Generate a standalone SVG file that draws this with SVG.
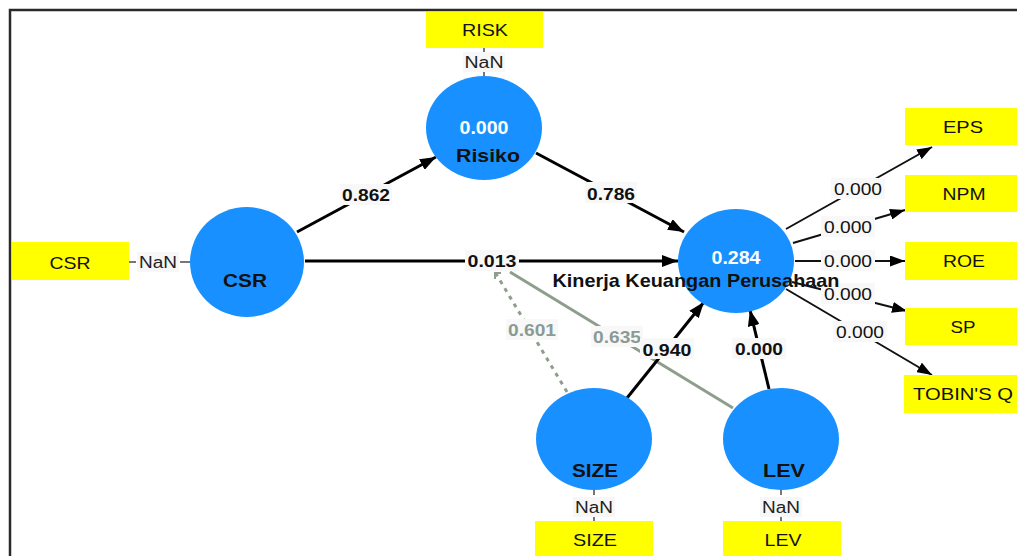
<svg xmlns="http://www.w3.org/2000/svg" width="1017" height="556" viewBox="0 0 1017 556">
<defs>
<marker id="ah" viewBox="0 0 16 12" refX="16" refY="6" markerWidth="16" markerHeight="12" markerUnits="userSpaceOnUse" orient="auto"><path d="M0,0 L16,6 L0,12 z" fill="#000"/></marker>
<marker id="ahs" viewBox="0 0 15 11" refX="15" refY="5.5" markerWidth="15" markerHeight="11" markerUnits="userSpaceOnUse" orient="auto"><path d="M0,0 L15,5.5 L0,11 z" fill="#000"/></marker>
</defs>
<style>
.lv{fill:#1990ff}
.box{fill:#ffff00}
.bt{font-family:"Liberation Sans",Arial,sans-serif;font-size:17px;fill:#111;text-anchor:middle}
.nan{font-family:"Liberation Sans",Arial,sans-serif;font-size:16px;fill:#222;text-anchor:middle}
.nbg{fill:#f7f7f7}
.cl{font-family:"Liberation Sans",Arial,sans-serif;font-size:19px;font-weight:bold;fill:#111;text-anchor:middle}
.r2{font-family:"Liberation Sans",Arial,sans-serif;font-size:18px;font-weight:bold;fill:#fff;text-anchor:middle}
.main{stroke:#000;stroke-width:3;fill:none}
.outer{stroke:#111;stroke-width:2;fill:none}
.mod{stroke:#8e9e8c;stroke-width:3;fill:none}
.nl{stroke:#777;stroke-width:2}
.pl{font-family:"Liberation Sans",Arial,sans-serif;font-size:17px;font-weight:bold;fill:#111;text-anchor:middle}
.ml{font-family:"Liberation Sans",Arial,sans-serif;font-size:17px;font-weight:bold;fill:#8a9b95;text-anchor:middle}
.ol{font-family:"Liberation Sans",Arial,sans-serif;font-size:17px;fill:#111;text-anchor:middle}
.lbg{fill:#f8f8f8}
</style>
<rect width="1017" height="556" fill="#fff"/>
<path d="M10,556 V10 H1017" fill="none" stroke="#2a2a2a" stroke-width="2.5"/>
<g id="connectors">
<path class="mod" d="M567,392 L495,272" stroke-dasharray="4 5"/>
<path d="M495,279 V273 H501" fill="none" stroke="#8e9e8c" stroke-width="2"/>
<path class="mod" d="M510,272 L733,408"/>
<path class="main" d="M297,232 L436,157" marker-end="url(#ah)"/>
<path class="main" d="M536,153 L684,232" marker-end="url(#ah)"/>
<path class="main" d="M305,261 L678,261" marker-end="url(#ah)"/>
<path class="main" d="M627,398 L704,302" marker-end="url(#ah)"/>
<path class="main" d="M769,389 L750,310" marker-end="url(#ah)"/>
<path class="outer" d="M786,229 L932,147" marker-end="url(#ahs)"/>
<path class="outer" d="M793,243 L905,210" marker-end="url(#ahs)"/>
<path class="outer" d="M795,261 L905,261" marker-end="url(#ahs)"/>
<path class="outer" d="M792,282 L907,311" marker-end="url(#ahs)"/>
<path class="outer" d="M786,289 L932,375" marker-end="url(#ahs)"/>
<line class="nl" x1="129" y1="262" x2="136" y2="262"/>
<line class="nl" x1="180" y1="262" x2="190" y2="262"/>
<line class="nl" x1="484" y1="48" x2="484" y2="52"/>
<line class="nl" x1="484" y1="72" x2="484" y2="76"/>
<line class="nl" x1="594" y1="490" x2="594" y2="495"/>
<line class="nl" x1="594" y1="517" x2="594" y2="521"/>
<line class="nl" x1="781" y1="490" x2="781" y2="495"/>
<line class="nl" x1="781" y1="517" x2="781" y2="521"/>
<rect class="lbg" x="340" y="184" width="52" height="21"/><text class="pl" x="366" y="201" textLength="48" lengthAdjust="spacingAndGlyphs">0.862</text>
<rect class="lbg" x="585" y="182" width="52" height="21"/><text class="pl" x="611" y="200" textLength="48" lengthAdjust="spacingAndGlyphs">0.786</text>
<rect class="lbg" x="465" y="250" width="54" height="21"/><text class="pl" x="492" y="267" textLength="49" lengthAdjust="spacingAndGlyphs">0.013</text>
<rect class="lbg" x="506" y="319" width="52" height="21"/><text class="ml" x="532" y="336" textLength="48" lengthAdjust="spacingAndGlyphs">0.601</text>
<rect class="lbg" x="591" y="326" width="52" height="21"/><text class="ml" x="617" y="343" textLength="48" lengthAdjust="spacingAndGlyphs">0.635</text>
<rect class="lbg" x="640" y="338" width="54" height="21"/><text class="pl" x="667" y="356" textLength="49" lengthAdjust="spacingAndGlyphs">0.940</text>
<rect class="lbg" x="732" y="338" width="54" height="21"/><text class="pl" x="759" y="355" textLength="48" lengthAdjust="spacingAndGlyphs">0.000</text>
<rect class="lbg" x="831" y="178" width="54" height="21"/><text class="ol" x="858" y="195" textLength="48" lengthAdjust="spacingAndGlyphs">0.000</text>
<rect class="lbg" x="821" y="216" width="54" height="21"/><text class="ol" x="848" y="233" textLength="48" lengthAdjust="spacingAndGlyphs">0.000</text>
<rect class="lbg" x="821" y="250" width="54" height="21"/><text class="ol" x="848" y="267" textLength="48" lengthAdjust="spacingAndGlyphs">0.000</text>
<rect class="lbg" x="821" y="283" width="54" height="21"/><text class="ol" x="848" y="300" textLength="48" lengthAdjust="spacingAndGlyphs">0.000</text>
<rect class="lbg" x="833" y="321" width="54" height="21"/><text class="ol" x="860" y="338" textLength="48" lengthAdjust="spacingAndGlyphs">0.000</text>
</g>
<g id="node-risiko">
<ellipse class="lv" cx="484" cy="128" rx="58" ry="52"/>
<text class="r2" x="484" y="134" textLength="49" lengthAdjust="spacingAndGlyphs">0.000</text>
<text class="cl" x="488" y="162" textLength="64" lengthAdjust="spacingAndGlyphs">Risiko</text>
</g>
<g id="ind-risk">
<rect class="box" x="426" y="12" width="117" height="36"/>
<text class="bt" x="485" y="36" textLength="46" lengthAdjust="spacingAndGlyphs">RISK</text>
<rect class="nbg" x="463" y="52" width="42" height="20"/>
<text class="nan" x="484" y="68" textLength="39" lengthAdjust="spacingAndGlyphs">NaN</text>
</g>
<g id="node-csr">
<ellipse class="lv" cx="247" cy="262" rx="57" ry="55"/>
<text class="cl" x="245" y="287" textLength="44" lengthAdjust="spacingAndGlyphs">CSR</text>
</g>
<g id="ind-csr">
<rect class="box" x="12" y="242" width="117" height="38"/>
<text class="bt" x="70" y="269" textLength="41" lengthAdjust="spacingAndGlyphs">CSR</text>
<rect class="nbg" x="137" y="252" width="42" height="20"/>
<text class="nan" x="158" y="268" textLength="38" lengthAdjust="spacingAndGlyphs">NaN</text>
</g>
<g id="node-kinerja">
<ellipse class="lv" cx="736" cy="261" rx="58" ry="52"/>
<text class="r2" x="736" y="264" font-size="17" textLength="49" lengthAdjust="spacingAndGlyphs">0.284</text>
<text class="cl" x="696" y="287" font-size="17" textLength="287" lengthAdjust="spacingAndGlyphs">Kinerja Keuangan Perusahaan</text>
</g>
<g id="node-size">
<ellipse class="lv" cx="594" cy="439" rx="58" ry="51"/>
<text class="cl" x="595" y="477" textLength="46" lengthAdjust="spacingAndGlyphs">SIZE</text>
</g>
<g id="ind-size">
<rect class="box" x="535" y="521" width="118" height="40"/>
<text class="bt" x="595" y="546" textLength="44" lengthAdjust="spacingAndGlyphs">SIZE</text>
<rect class="nbg" x="573" y="497" width="42" height="20"/>
<text class="nan" x="594" y="513" textLength="38" lengthAdjust="spacingAndGlyphs">NaN</text>
</g>
<g id="node-lev">
<ellipse class="lv" cx="781" cy="439" rx="58" ry="51"/>
<text class="cl" x="784" y="477" textLength="42" lengthAdjust="spacingAndGlyphs">LEV</text>
</g>
<g id="ind-lev">
<rect class="box" x="723" y="521" width="118" height="40"/>
<text class="bt" x="783" y="546" textLength="37" lengthAdjust="spacingAndGlyphs">LEV</text>
<rect class="nbg" x="760" y="497" width="42" height="20"/>
<text class="nan" x="781" y="513" textLength="38" lengthAdjust="spacingAndGlyphs">NaN</text>
</g>
<g id="ind-eps">
<rect class="box" x="905" y="108" width="117" height="37"/>
<text class="bt" x="963" y="133" textLength="40" lengthAdjust="spacingAndGlyphs">EPS</text>
</g>
<g id="ind-npm">
<rect class="box" x="905" y="175" width="117" height="37"/>
<text class="bt" x="964" y="200" textLength="43" lengthAdjust="spacingAndGlyphs">NPM</text>
</g>
<g id="ind-roe">
<rect class="box" x="905" y="242" width="117" height="38"/>
<text class="bt" x="964" y="267" textLength="42" lengthAdjust="spacingAndGlyphs">ROE</text>
</g>
<g id="ind-sp">
<rect class="box" x="905" y="308" width="117" height="37"/>
<text class="bt" x="963" y="333" textLength="25" lengthAdjust="spacingAndGlyphs">SP</text>
</g>
<g id="ind-tobin">
<rect class="box" x="904" y="375" width="117" height="38"/>
<text class="bt" x="963" y="400" textLength="100" lengthAdjust="spacingAndGlyphs">TOBIN'S Q</text>
</g>
</svg>
